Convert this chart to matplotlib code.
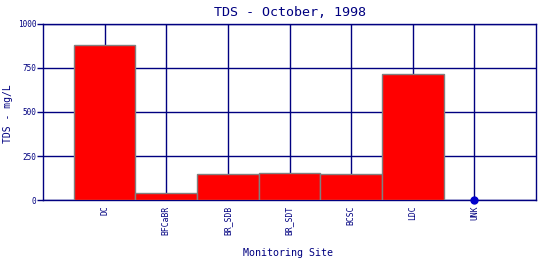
import matplotlib
matplotlib.use('Agg')
import matplotlib.pyplot as plt

# Chart data
sites = ['DC', 'BFCaBR', 'BR_SDB', 'BR_SDT', 'BCSC', 'LDC', 'UNK']
tds = [880, 40, 148, 153, 146, 714, 0]
yticks = [0, 250, 500, 750, 1000]

navy = '#000080'
plt.rcParams['font.family'] = ['DejaVu Sans Mono']

fig = plt.figure(figsize=(5.4, 2.6), dpi=100)
ax = fig.add_axes([43 / 540, 60 / 260, 493 / 540, 176 / 260])

x = list(range(len(sites)))
ax.bar(x[:-1], tds[:-1], width=1.0, color='#ff0000', edgecolor='#808080',
       linewidth=1.0, zorder=3)
ax.plot(x[-1], tds[-1], 'o', color='#0000cc', markersize=5, zorder=4,
        clip_on=False)

ax.set_xlim(-1, 7)
ax.set_ylim(0, 1000)
ax.set_xticks(x)
ax.set_xticklabels(sites, rotation=90, fontsize=5.8, color=navy)
ax.set_yticks(yticks)
ax.set_yticklabels([str(v) for v in yticks], fontsize=5.6, color=navy)
ax.tick_params(axis='x', length=0, pad=4)
ax.tick_params(axis='y', length=4, width=1.0, color=navy, pad=1)

ax.grid(True, color=navy, linewidth=1.0, zorder=0)
for s in ax.spines.values():
    s.set_color(navy)
    s.set_linewidth(1.0)

ax.set_title('TDS - October, 1998', fontsize=9.6, color=navy, pad=6)
fig.text(8 / 540, 1 - 114 / 260, 'TDS - mg/L', rotation=90, fontsize=7.0,
         color=navy, ha='center', va='center')
fig.text(288 / 540, 1 - 253 / 260, 'Monitoring Site', fontsize=7.2,
         color=navy, ha='center', va='center')

fig.savefig('out.png', dpi=100)
